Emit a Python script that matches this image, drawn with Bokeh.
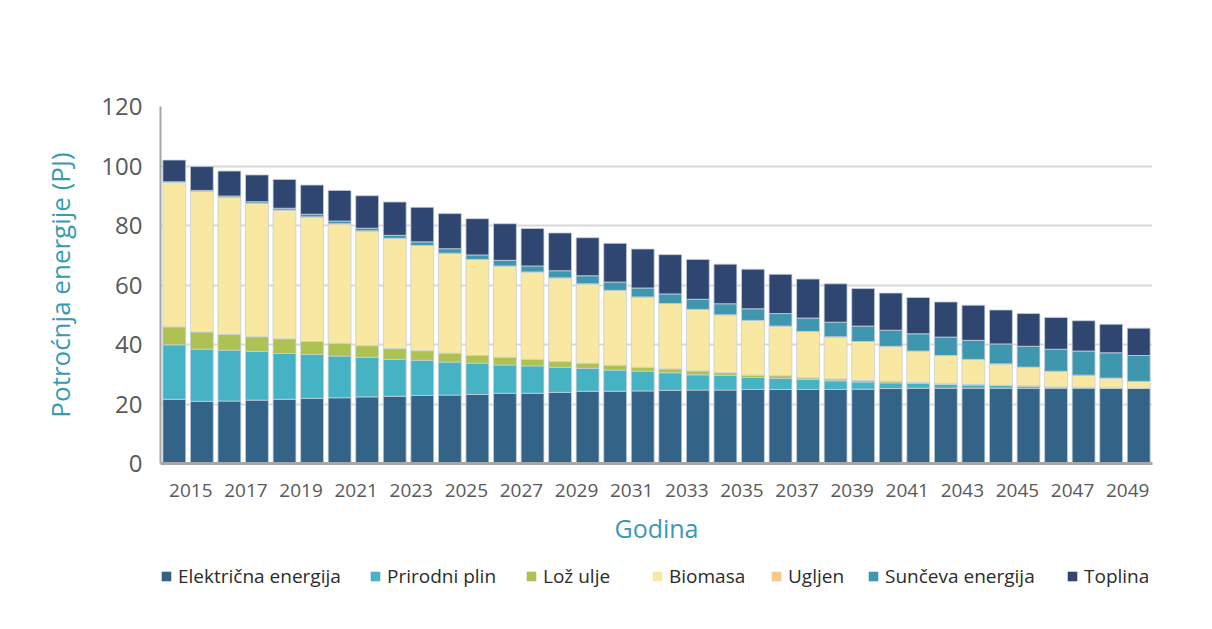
from bokeh.plotting import figure
from bokeh.layouts import column
from bokeh.models import ColumnDataSource, Range1d, FixedTicker, Legend, LegendItem
from bokeh.embed import file_html
from bokeh.resources import INLINE

years = list(range(2015, 2051))

elektricna = [21.6, 20.9, 21.0, 21.3, 21.6, 21.9, 22.1, 22.4, 22.6, 22.9,
              23.0, 23.2, 23.6, 23.6, 23.9, 24.3, 24.3, 24.4, 24.6, 24.7,
              24.7, 24.9, 24.9, 24.9, 24.9, 25.0, 25.2, 25.3, 25.3, 25.3,
              25.3, 25.3, 25.3, 25.3, 25.3, 25.3]
prirodni_plin = [18.3, 17.5, 17.1, 16.4, 15.4, 14.8, 14.0, 13.3, 12.4, 11.8,
                 11.1, 10.5, 9.5, 9.2, 8.4, 7.7, 7.1, 6.6, 5.9, 5.1,
                 4.9, 4.0, 3.7, 3.4, 2.9, 2.4, 1.9, 1.6, 1.3, 1.1,
                 0.9, 0.7, 0.4, 0.3, 0.1, 0.0]
loz_ulje = [6.0, 5.8, 5.3, 4.9, 4.9, 4.3, 4.3, 3.9, 3.6, 3.2,
            3.0, 2.6, 2.6, 2.2, 2.0, 1.7, 1.6, 1.3, 1.3, 1.3,
            0.9, 0.8, 0.9, 0.5, 0.6, 0.5, 0.5, 0.3, 0.2, 0.2,
            0.1, 0.1, 0.0, 0.0, 0.0, 0.0]
biomasa = [48.6, 47.3, 46.1, 44.9, 43.3, 41.9, 40.2, 38.6, 37.1, 35.4,
           33.6, 32.3, 30.7, 29.4, 28.1, 26.7, 25.2, 23.7, 22.0, 20.7,
           19.5, 18.4, 16.7, 15.6, 14.2, 13.1, 11.8, 10.6, 9.5, 8.4,
           7.2, 6.3, 5.3, 4.1, 3.3, 2.3]
ugljen = [0.0] * 36
sunceva = [0.2, 0.3, 0.4, 0.5, 0.6, 0.9, 0.9, 0.9, 1.0, 1.2,
           1.5, 1.5, 1.9, 2.0, 2.4, 2.7, 2.8, 3.0, 3.2, 3.4,
           3.7, 3.9, 4.2, 4.5, 4.9, 5.2, 5.4, 5.8, 6.2, 6.4,
           6.7, 7.0, 7.4, 8.1, 8.5, 8.7]
toplina = [7.3, 8.0, 8.4, 9.0, 9.7, 9.8, 10.3, 10.9, 11.2, 11.6,
           11.8, 12.2, 12.3, 12.6, 12.7, 12.8, 13.0, 13.1, 13.2, 13.4,
           13.3, 13.3, 13.2, 13.1, 12.9, 12.6, 12.5, 12.2, 11.8, 11.8,
           11.4, 11.0, 10.7, 10.2, 9.6, 9.2]

series_names = ["Električna energija", "Prirodni plin", "Lož ulje", "Biomasa",
                "Ugljen", "Sunčeva energija", "Toplina"]
series_keys = ["elektricna", "plin", "loz", "biomasa", "ugljen", "sunceva", "toplina"]
colors = ["#336487", "#45b3c4", "#adc252", "#f9e8a2", "#fbc78d", "#3f96af", "#2f4670"]
label_years = list(range(2015, 2050, 2))
y_ticks = [0, 20, 40, 60, 80, 100, 120]

FONT = "Open Sans"
W = 1196

src = ColumnDataSource(dict(year=years, elektricna=elektricna, plin=prirodni_plin,
                            loz=loz_ulje, biomasa=biomasa, ugljen=ugljen,
                            sunceva=sunceva, toplina=toplina))

p = figure(width=W, height=548,
           x_range=Range1d(2014.5, 2050.5), y_range=Range1d(0, 120),
           output_backend="svg", toolbar_location=None,
           min_border_left=160, min_border_right=W - 1152,
           min_border_top=106, min_border_bottom=85)
p.frame_align = False
p.outline_line_color = None
p.background_fill_color = "white"
p.border_fill_color = "white"

renderers = p.vbar_stack(series_keys, x="year", width=0.83, source=src,
                         fill_color=colors, line_color="#c6cfdb", line_width=0.8)

# axes
tick_off = 0.6
p.xaxis.ticker = FixedTicker(ticks=[y + tick_off for y in label_years])
p.xaxis.major_label_overrides = {y + tick_off: str(y) for y in label_years}
p.xaxis.major_tick_line_color = None
p.xaxis.minor_tick_line_color = None
p.xaxis.axis_line_color = "#a6a6a6"
p.xaxis.axis_line_width = 3
p.xaxis.major_label_text_font = FONT
p.xaxis.major_label_text_font_size = "19px"
p.xaxis.major_label_text_color = "#595959"
p.xaxis.major_label_standoff = 14
p.xaxis.axis_label = "Godina"
p.xaxis.axis_label_text_font = FONT
p.xaxis.axis_label_text_font_size = "25px"
p.xaxis.axis_label_text_font_style = "normal"
p.xaxis.axis_label_text_color = "#3a9ab3"
p.xaxis.axis_label_standoff = 11

p.yaxis.ticker = FixedTicker(ticks=y_ticks)
p.yaxis.major_tick_line_color = None
p.yaxis.minor_tick_line_color = None
p.yaxis.axis_line_color = "#a6a6a6"
p.yaxis.axis_line_width = 2
p.yaxis.major_label_text_font = FONT
p.yaxis.major_label_text_font_size = "24px"
p.yaxis.major_label_text_color = "#595959"
p.yaxis.major_label_standoff = 12
p.yaxis.axis_label = "Potroćnja energije (PJ)"
p.yaxis.axis_label_text_font = FONT
p.yaxis.axis_label_text_font_size = "26px"
p.yaxis.axis_label_text_font_style = "normal"
p.yaxis.axis_label_text_color = "#3a9ab3"
p.yaxis.axis_label_standoff = 20

p.xgrid.grid_line_color = None
p.ygrid.grid_line_color = "#d9d9d9"
p.ygrid.grid_line_width = 2

# legend strip below the chart: one zero-size swatch renderer per series
lg = figure(width=W, height=65, x_range=Range1d(0, 1), y_range=Range1d(0, 1),
            output_backend="svg", toolbar_location=None,
            min_border_left=0, min_border_right=0, min_border_top=0, min_border_bottom=0)
lg.frame_align = False
lg.axis.visible = False
lg.grid.visible = False
lg.outline_line_color = None
lg.border_fill_color = "white"

legend_x = [160, 369, 525, 651, 770, 867, 1066]
for name, c, lx in zip(series_names, colors, legend_x):
    sw = lg.quad(left=[0], right=[0], top=[0], bottom=[0], fill_color=c, line_color=c,
                 line_alpha=0)
    leg = Legend(items=[LegendItem(label=name, renderers=[sw])],
                 location=(lx, 24), orientation="horizontal",
                 padding=0, margin=0, border_line_color=None,
                 background_fill_alpha=0, glyph_width=12, glyph_height=12,
                 label_standoff=6, label_text_font=FONT,
                 label_text_font_size="19px", label_text_color="#2b2b2b")
    lg.add_layout(leg, "center")

layout = column(p, lg, spacing=0)
open("out.html", "w").write(file_html(layout, INLINE))
